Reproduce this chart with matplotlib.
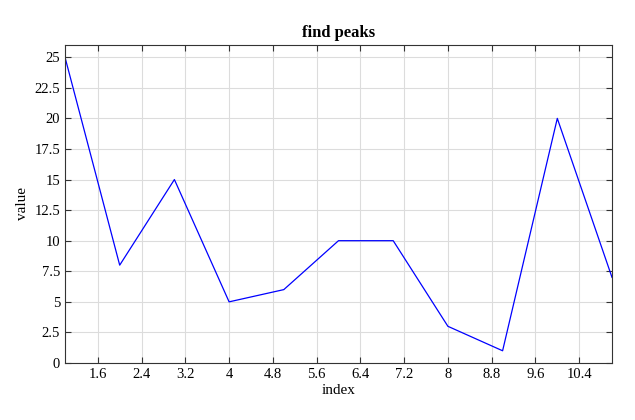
import numpy as np
import matplotlib
matplotlib.use("Agg")
import matplotlib.pyplot as plt

plt.rcParams['font.family'] = ['Liberation Serif', 'DejaVu Serif']

index = [1, 2, 3, 4, 5, 6, 7, 8, 9, 10, 11]
value = [25, 8, 15, 5, 6, 10, 10, 3, 1, 20, 7]
xticks = [1.6, 2.4, 3.2, 4, 4.8, 5.6, 6.4, 7.2, 8, 8.8, 9.6, 10.4]
xlabels = ['1.6', '2.4', '3.2', '4', '4.8', '5.6', '6.4', '7.2', '8', '8.8', '9.6', '10.4']
yticks = [0, 2.5, 5, 7.5, 10, 12.5, 15, 17.5, 20, 22.5, 25]

fig = plt.figure(figsize=(6.35, 4.2), dpi=100)
ax = fig.add_axes([65 / 635, 1 - 363 / 420, (612 - 65) / 635, (363 - 45) / 420])
ax.plot(index, value, color='blue', linewidth=0.9)
ax.set_xlim(1, 11)
ax.set_ylim(0, 26)
ax.set_xticks(xticks)
ax.set_xticklabels(xlabels)
ax.set_yticks(yticks)
ax.set_yticklabels([f'{t:g}' for t in yticks])
ax.grid(True, color='#dcdcdc', linewidth=0.8)
for s in ax.spines.values():
    s.set_color('#333333')
ax.tick_params(direction='in', top=True, right=True, labelsize=10.5, length=4,
               color='#333333')
ax.set_title('find peaks', fontweight='bold', fontsize=12)
ax.set_xlabel('index', fontsize=11, labelpad=2)
ax.set_ylabel('value', fontsize=11)
fig.savefig('out.png')
